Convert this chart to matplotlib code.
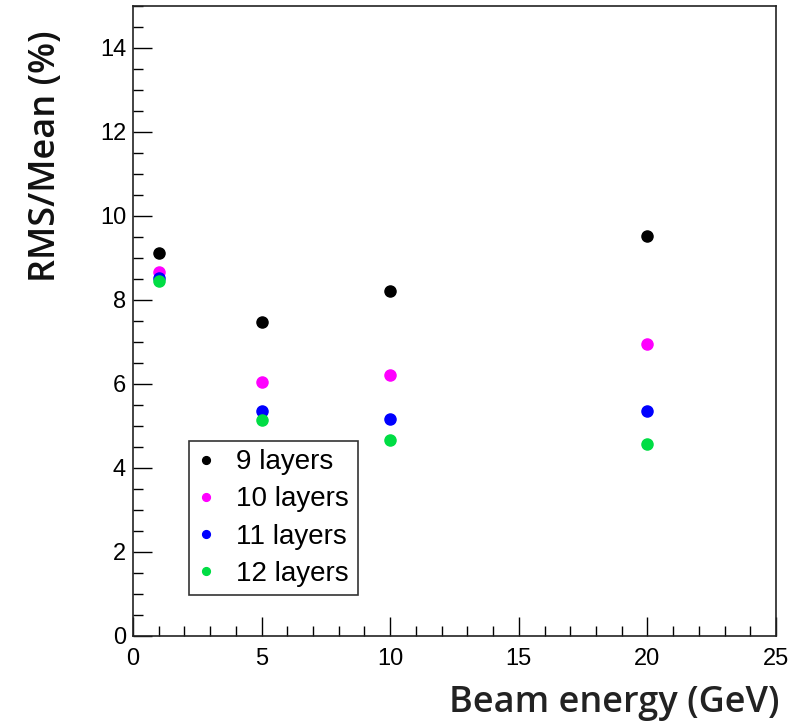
import matplotlib.pyplot as plt
from matplotlib.ticker import MultipleLocator

# Energia do feixe (GeV) e resolucao RMS/Mean (%) para cada numero de camadas
energies = [1, 5, 10, 20]
rms_9 = [9.11, 7.48, 8.21, 9.52]
rms_10 = [8.67, 6.05, 6.22, 6.95]
rms_11 = [8.52, 5.36, 5.16, 5.36]
rms_12 = [8.46, 5.14, 4.66, 4.56]

labels = ["9 layers", "10 layers", "11 layers", "12 layers"]
colors = ["black", "#ff00ff", "#0000ff", "#00dd44"]
series = [rms_9, rms_10, rms_11, rms_12]

fig = plt.figure(figsize=(8, 7.24), dpi=100)
ax = fig.add_axes([0.16625, 0.12155, 0.80375, 0.8702])

for values, color, label in zip(series, colors, labels):
    ax.plot(energies, values, "o", color=color, markersize=8, label=label,
            linestyle="none")

ax.set_xlim(0, 25)
ax.set_ylim(0, 15)

# Marcas no estilo ROOT: para dentro, apenas nos eixos de baixo e da esquerda
ax.xaxis.set_major_locator(MultipleLocator(5))
ax.xaxis.set_minor_locator(MultipleLocator(1))
ax.yaxis.set_major_locator(MultipleLocator(2))
ax.yaxis.set_minor_locator(MultipleLocator(0.5))
ax.set_yticks([0, 2, 4, 6, 8, 10, 12, 14])
ax.tick_params(which="both", direction="in", top=False, right=False,
               labelsize=17, width=1)
ax.tick_params(which="major", length=14)
ax.tick_params(which="minor", length=7)
ax.tick_params(axis="x", pad=9)
ax.tick_params(axis="y", pad=5)
for lab in ax.get_xticklabels() + ax.get_yticklabels():
    lab.set_fontfamily("Liberation Sans")

for spine in ax.spines.values():
    spine.set_linewidth(1.2)
    spine.set_color("#222222")

ax.set_xlabel("Beam energy (GeV)", fontsize=26, family="Open Sans",
              weight="semibold", color="#222222", loc="right")
ax.xaxis.set_label_coords(1.006, -0.078)
ax.set_ylabel("RMS/Mean (%)", fontsize=26, family="Open Sans",
              weight="semibold", color="#111111", loc="top")
ax.yaxis.set_label_coords(-0.108, 0.962)

leg = ax.legend(loc="lower left", bbox_to_anchor=(0.087, 0.065, 0.263, 0.248),
                mode="expand", fontsize=20, frameon=True, fancybox=False,
                markerscale=0.7, handlelength=0.6, handletextpad=0.8,
                borderpad=0.3, labelspacing=0.4, borderaxespad=0)
leg.get_frame().set_edgecolor("black")
leg.get_frame().set_linewidth(1.2)
for t in leg.get_texts():
    t.set_fontfamily("Liberation Sans")

fig.savefig("out.png", dpi=100)
